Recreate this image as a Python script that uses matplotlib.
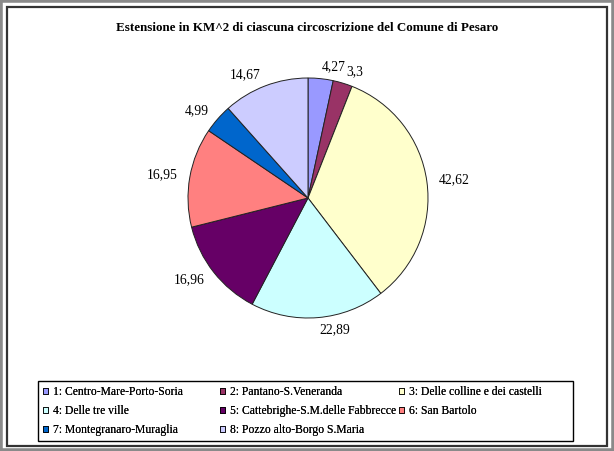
import matplotlib
matplotlib.use("Agg")
import matplotlib.pyplot as plt
from matplotlib.patches import Rectangle, Patch

title = "Estensione in KM^2 di ciascuna circoscrizione del Comune di Pesaro"
categories = ["1: Centro-Mare-Porto-Soria", "2: Pantano-S.Veneranda",
              "3: Delle colline e dei castelli", "4: Delle tre ville",
              "5: Cattebrighe-S.M.delle Fabbrecce", "6: San Bartolo",
              "7: Montegranaro-Muraglia", "8: Pozzo alto-Borgo S.Maria"]
values = [4.27, 3.3, 42.62, 22.89, 16.96, 16.95, 4.99, 14.67]
value_labels = ["4,27", "3,3", "42,62", "22,89", "16,96", "16,95", "4,99", "14,67"]
colors = ["#9999FF", "#993366", "#FFFFCC", "#CCFFFF", "#660066", "#FF8080", "#0066CC", "#CCCCFF"]

W, H = 614, 451
fig = plt.figure(figsize=(W / 100, H / 100), dpi=100)
fig.patch.set_facecolor("white")

# outer gray border and inner frame
fig.add_artist(Rectangle((0, 0), 1, 1, transform=fig.transFigure, fill=False,
                         edgecolor="#8a8a8a", linewidth=4))
fig.add_artist(Rectangle((7 / W, 5 / H), (W - 14) / W, (H - 12) / H, transform=fig.transFigure,
                         fill=False, edgecolor="#333333", linewidth=1.6))

fig.text(307 / W, 1 - 28 / H, title, ha="center", va="center",
         fontfamily="Liberation Serif", fontweight="bold", fontsize=9.35)

cx, cy, r = 308, 198, 120
ax = fig.add_axes([(cx - r) / W, (H - cy - r) / H, 2 * r / W, 2 * r / H])
wedges, texts = ax.pie(values, colors=colors, startangle=90, counterclock=False,
                       labels=value_labels, labeldistance=1.1,
                       wedgeprops=dict(edgecolor="#222222", linewidth=0.7),
                       textprops=dict(fontfamily="Liberation Serif", fontsize=9.8))
ax.set_xlim(-1, 1)
ax.set_ylim(-1, 1)
ax.set_aspect("equal")
ax.axis("off")

# legend frame
fig.add_artist(Rectangle((38 / W, 1 - 441 / H), (573 - 38) / W, (441 - 381) / H,
                         transform=fig.transFigure, fill=False, edgecolor="black", linewidth=1.0))

# legend: three equal-width columns, entries filled row by row
col_x = [43, 220, 399]
for c in range(3):
    idx = [i for i in range(len(categories)) if i % 3 == c]
    handles = [Patch(facecolor=colors[i], edgecolor="black", linewidth=0.6) for i in idx]
    labels = [categories[i] for i in idx]
    leg = fig.legend(handles, labels, loc="upper left",
                     bbox_to_anchor=(col_x[c] / W, 1 - 386 / H),
                     frameon=False, prop=dict(family="Liberation Serif", size=8.35),
                     handlelength=0.47, handleheight=0.47, handletextpad=0.35,
                     labelspacing=0.6, borderpad=0, borderaxespad=0)
    fig.add_artist(leg)

fig.savefig("out.png", dpi=100)
